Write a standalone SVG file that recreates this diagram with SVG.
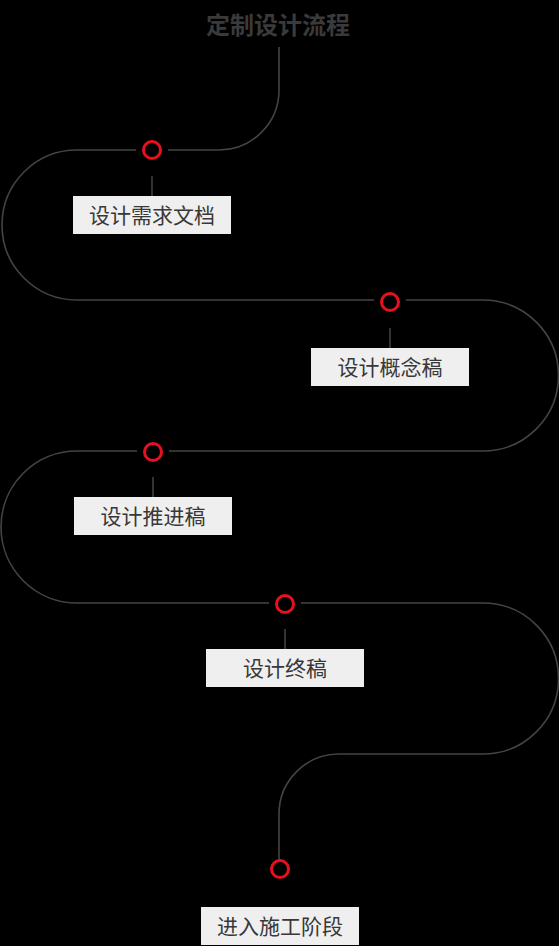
<svg xmlns="http://www.w3.org/2000/svg" width="559" height="946" viewBox="0 0 559 946">
<style>
.bg{fill:#000}
.path{fill:none;stroke:#444;stroke-width:1.6}
.stem{stroke:#555;stroke-width:1.2}
.halo{fill:#000}
.dot{fill:#000;stroke:#e8101e;stroke-width:3}
.box{fill:#efefef}
.lbl{font-family:"Noto Sans CJK SC","Noto Sans",sans-serif;font-size:21px;fill:#383838;text-anchor:middle}
.title{font-family:"Noto Sans CJK SC","Noto Sans",sans-serif;font-size:24px;font-weight:bold;fill:#3a3a3a;text-anchor:middle}
</style>
<rect class="bg" x="0" y="0" width="559" height="946"/>
<text id="title" class="title" x="278" y="33.5">定制设计流程</text>
<g id="connectors">
<path class="path" d="M279,47 V90 A60,60 0 0 1 219,150 H77 A75,75 0 0 0 77,300 H483 A75.5,75.5 0 0 1 483,451 H77 A76,76 0 0 0 77,603 H483 A75.5,75.5 0 0 1 483,754 H339 A60,60 0 0 0 279,814 V860"/>
<line class="stem" x1="152" y1="176" x2="152" y2="196"/>
<line class="stem" x1="390" y1="328" x2="390" y2="348"/>
<line class="stem" x1="153" y1="477" x2="153" y2="497"/>
<line class="stem" x1="285" y1="629" x2="285" y2="649"/>
</g>
<g id="node1">
<circle class="halo" cx="152" cy="150" r="16"/>
<circle class="dot" cx="152" cy="150" r="8.5"/>
<rect class="box" x="73" y="196" width="158" height="38"/>
<text class="lbl" x="152" y="222.5">设计需求文档</text>
</g>
<g id="node2">
<circle class="halo" cx="390" cy="302" r="16"/>
<circle class="dot" cx="390" cy="302" r="8.5"/>
<rect class="box" x="311" y="348" width="158" height="38"/>
<text class="lbl" x="390" y="374.5">设计概念稿</text>
</g>
<g id="node3">
<circle class="halo" cx="153" cy="452" r="16"/>
<circle class="dot" cx="153" cy="452" r="8.5"/>
<rect class="box" x="74" y="497" width="158" height="38"/>
<text class="lbl" x="153" y="523.5">设计推进稿</text>
</g>
<g id="node4">
<circle class="halo" cx="285" cy="604" r="16"/>
<circle class="dot" cx="285" cy="604" r="8.5"/>
<rect class="box" x="206" y="649" width="158" height="38"/>
<text class="lbl" x="285" y="675.5">设计终稿</text>
</g>
<g id="node5">
<circle class="dot" cx="280" cy="869" r="8.5"/>
<rect class="box" x="201" y="907" width="158" height="38"/>
<text class="lbl" x="280" y="933.5">进入施工阶段</text>
</g>
</svg>
